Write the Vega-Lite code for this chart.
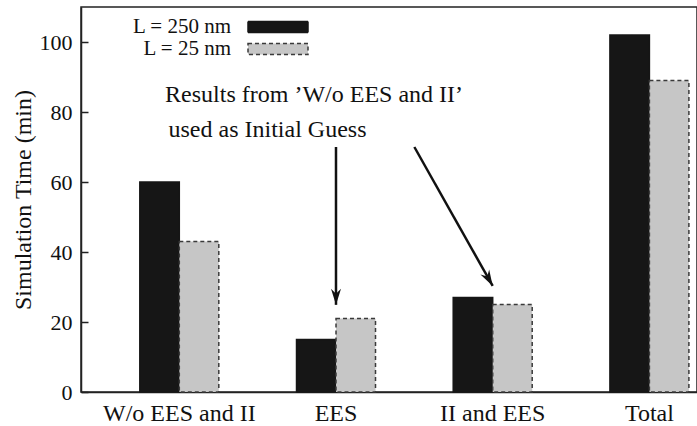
{
  "$schema": "https://vega.github.io/schema/vega-lite/v6.json",
  "width": 616,
  "height": 385,
  "autosize": {"type": "none"},
  "padding": {"left": 81, "top": 7, "right": 0, "bottom": 34},
  "background": "white",
  "config": {
    "view": {"stroke": "#222", "strokeWidth": 1.5},
    "font": "Liberation Serif",
    "axis": {
      "labelFont": "Liberation Serif",
      "titleFont": "Liberation Serif",
      "labelColor": "#111",
      "titleColor": "#111",
      "domainColor": "#222",
      "domainWidth": 1.5,
      "tickColor": "#222",
      "tickWidth": 1.5,
      "grid": false,
      "titleFontWeight": "normal"
    }
  },
  "datasets": {
    "times": [
      {"group": "W/o EES and II", "series": "L = 250 nm", "time": 60},
      {"group": "W/o EES and II", "series": "L = 25 nm", "time": 43},
      {"group": "EES", "series": "L = 250 nm", "time": 15},
      {"group": "EES", "series": "L = 25 nm", "time": 21},
      {"group": "II and EES", "series": "L = 250 nm", "time": 27},
      {"group": "II and EES", "series": "L = 25 nm", "time": 25},
      {"group": "Total", "series": "L = 250 nm", "time": 102},
      {"group": "Total", "series": "L = 25 nm", "time": 89}
    ],
    "arrows": [
      {"x": 1, "y": 70, "x2": 1, "y2": 24.9},
      {"x": 1.5, "y": 70, "x2": 2, "y2": 30.3}
    ],
    "notes": [
      {"x": 0.86, "y": 84.9, "text": "Results from ’W/o EES and II’"},
      {"x": 0.563, "y": 74.9, "text": "used as Initial Guess"}
    ]
  },
  "layer": [
    {
      "data": {"name": "times"},
      "mark": {"type": "bar", "strokeWidth": 1.5},
      "encoding": {
        "x": {
          "field": "group",
          "type": "nominal",
          "sort": ["W/o EES and II", "EES", "II and EES", "Total"],
          "scale": {"paddingInner": 0.4959, "paddingOuter": 0.2135, "align": 0.879},
          "axis": {
            "title": null,
            "labelAngle": 0,
            "ticks": false,
            "tickSize": 0,
            "labelFontSize": 24,
            "labelPadding": 28,
            "labelBaseline": "alphabetic"
          }
        },
        "xOffset": {
          "field": "series",
          "type": "nominal",
          "sort": ["L = 250 nm", "L = 25 nm"],
          "scale": {"paddingInner": 0, "paddingOuter": 0}
        },
        "y": {
          "field": "time",
          "type": "quantitative",
          "scale": {"domain": [0, 110], "nice": false},
          "axis": {
            "title": "Simulation Time (min)",
            "values": [0, 20, 40, 60, 80, 100],
            "tickSize": -7,
            "labelPadding": 16,
            "labelFontSize": 22,
            "titleFontSize": 24,
            "titleX": -58,
            "titleY": 192.5,
            "titleBaseline": "middle"
          }
        },
        "fill": {
          "field": "series",
          "type": "nominal",
          "title": null,
          "scale": {"domain": ["L = 250 nm", "L = 25 nm"], "range": ["#161616", "#c6c6c6"]},
          "legend": {
            "orient": "none", "legendX": 186, "legendY": 9, "padding": 0,
            "labelFont": "Liberation Serif", "labelFontSize": 21, "labelColor": "#111",
            "labelAlign": "right", "labelOffset": -58,
            "symbolType": "M-3,-0.55H3V0.55H-3Z", "symbolSize": 400, "symbolStrokeWidth": 1.5,
            "rowPadding": 1
          }
        },
        "stroke": {
          "field": "series",
          "type": "nominal",
          "title": null,
          "scale": {"domain": ["L = 250 nm", "L = 25 nm"], "range": ["#161616", "#3a3a3a"]},
          "legend": {
            "orient": "none", "legendX": 186, "legendY": 9, "padding": 0,
            "labelFont": "Liberation Serif", "labelFontSize": 21, "labelColor": "#111",
            "labelAlign": "right", "labelOffset": -58,
            "symbolType": "M-3,-0.55H3V0.55H-3Z", "symbolSize": 400, "symbolStrokeWidth": 1.5,
            "rowPadding": 1
          }
        },
        "strokeDash": {
          "field": "series",
          "type": "nominal",
          "title": null,
          "scale": {"domain": ["L = 250 nm", "L = 25 nm"], "range": [[1, 0], [4, 3]]},
          "legend": {
            "orient": "none", "legendX": 186, "legendY": 9, "padding": 0,
            "labelFont": "Liberation Serif", "labelFontSize": 21, "labelColor": "#111",
            "labelAlign": "right", "labelOffset": -58,
            "symbolType": "M-3,-0.55H3V0.55H-3Z", "symbolSize": 400, "symbolStrokeWidth": 1.5,
            "rowPadding": 1
          }
        }
      }
    },
    {
      "layer": [
        {
          "data": {"name": "arrows"},
          "mark": {"type": "rule", "color": "#111", "strokeWidth": 2.5},
          "encoding": {
            "x": {"field": "x", "type": "quantitative", "scale": {"domain": [-0.6273, 3.3038], "nice": false, "zero": false}, "axis": null},
            "x2": {"field": "x2"},
            "y": {"field": "y", "type": "quantitative", "scale": {"domain": [0, 110], "nice": false}, "axis": null},
            "y2": {"field": "y2"}
          }
        },
        {
          "data": {"values": [{"x": 1, "y": 24.9}]},
          "mark": {"type": "point", "shape": "M0,0L-0.5,-1.6L0,-1.1L0.5,-1.6Z", "filled": true, "color": "#111", "size": 400, "opacity": 1},
          "encoding": {
            "x": {"field": "x", "type": "quantitative", "scale": {"domain": [-0.6273, 3.3038], "nice": false, "zero": false}, "axis": null},
            "y": {"field": "y", "type": "quantitative", "scale": {"domain": [0, 110], "nice": false}, "axis": null}
          }
        },
        {
          "data": {"values": [{"x": 2, "y": 30.3}]},
          "mark": {"type": "point", "shape": "M0,0L-0.5,-1.6L0,-1.1L0.5,-1.6Z", "filled": true, "color": "#111", "size": 400, "opacity": 1, "angle": 330.5},
          "encoding": {
            "x": {"field": "x", "type": "quantitative", "scale": {"domain": [-0.6273, 3.3038], "nice": false, "zero": false}, "axis": null},
            "y": {"field": "y", "type": "quantitative", "scale": {"domain": [0, 110], "nice": false}, "axis": null}
          }
        },
        {
          "data": {"name": "notes"},
          "mark": {"type": "text", "font": "Liberation Serif", "fontSize": 24, "color": "#111", "align": "center", "baseline": "middle"},
          "encoding": {
            "x": {"field": "x", "type": "quantitative", "scale": {"domain": [-0.6273, 3.3038], "nice": false, "zero": false}, "axis": null},
            "y": {"field": "y", "type": "quantitative", "scale": {"domain": [0, 110], "nice": false}, "axis": null},
            "text": {"field": "text"}
          }
        }
      ]
    }
  ],
  "resolve": {"scale": {"x": "independent"}, "axis": {"x": "independent", "y": "independent"}}
}
